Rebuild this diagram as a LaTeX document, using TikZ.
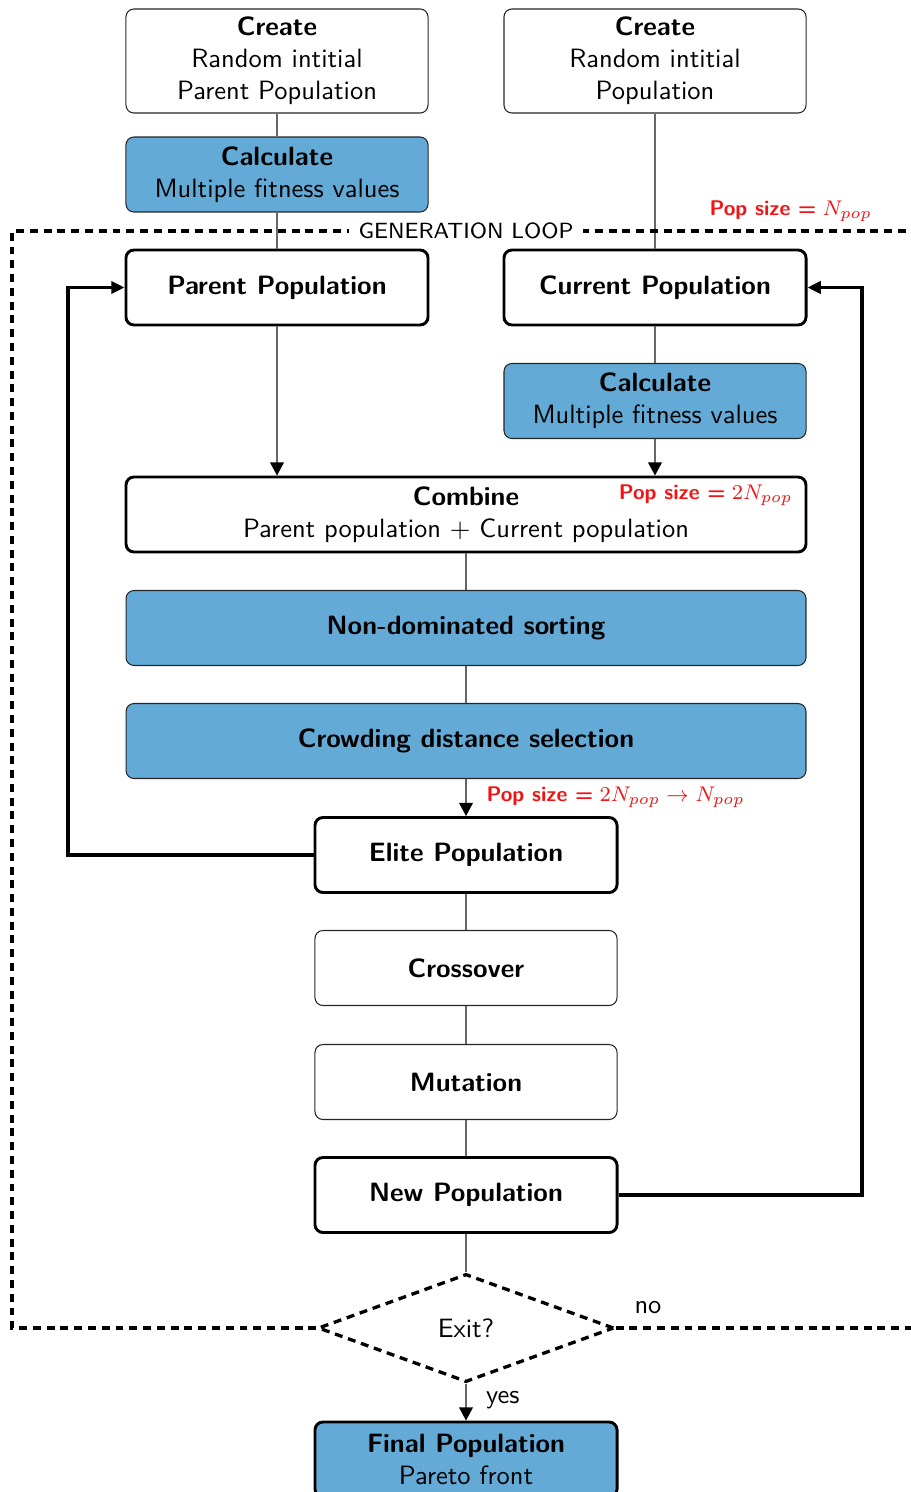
\documentclass[tikz,border=0pt]{standalone}
\usetikzlibrary{shapes.geometric,arrows.meta}
\renewcommand{\familydefault}{\sfdefault}
\definecolor{fitblue}{RGB}{100,170,214}
\definecolor{popred}{RGB}{240,20,20}
\newcommand{\beq}{\mathrel{\mbox{\bfseries =}}}
\tikzset{
  box/.style={rectangle, rounded corners=3pt, draw=black!85, line width=0.4pt,
    minimum width=114pt, minimum height=28.3pt, align=center, inner sep=2pt,
    font=\sffamily},
  tallbox/.style={box, minimum height=39.25pt},
  widebox/.style={box, minimum width=256.6pt},
  bluebox/.style={fill=fitblue},
  heavybox/.style={draw=black, line width=1.1pt},
  link/.style={draw=black!60, line width=0.6pt},
  arrowlink/.style={link, -{Triangle[length=5pt,width=5.2pt,black]}},
  loopline/.style={draw=black, line width=1.2pt, -{Triangle[length=5pt,width=4.6pt]}},
  looprect/.style={draw=black, line width=1.25pt, dash pattern=on 3pt off 2.2pt},
  popsize/.style={font=\sffamily\footnotesize\bfseries, text=popred, inner sep=0pt},
}
\begin{document}
\begin{tikzpicture}[x=0.3774pt, y=-0.3774pt]
\useasboundingbox (0,0) rectangle (910,1492);

% nodes
\node[tallbox] (create1) at (277,61) {\textbf{Create}\\Random intitial\\Parent Population};
\node[tallbox] (create2) at (655,61) {\textbf{Create}\\Random intitial\\Population};
\node[box,bluebox] (calc1) at (277,174.5) {\textbf{Calculate}\\Multiple fitness values};
\node[box,heavybox] (parent) at (277,287.5) {\textbf{Parent Population}};
\node[box,heavybox] (current) at (655,287.5) {\textbf{Current Population}};
\node[box,bluebox] (calc2) at (655,401) {\textbf{Calculate}\\Multiple fitness values};
\node[widebox,heavybox] (combine) at (466,514.5) {\textbf{Combine}\\Parent population $+$ Current population};
\node[widebox,bluebox] (nondom) at (466,628) {\textbf{Non-dominated sorting}};
\node[widebox,bluebox] (crowd) at (466,741) {\textbf{Crowding distance selection}};
\node[box,heavybox] (elite) at (466,855) {\textbf{Elite Population}};
\node[box] (cross) at (466,968) {\textbf{Crossover}};
\node[box] (mut) at (466,1082) {\textbf{Mutation}};
\node[box,heavybox] (newpop) at (466,1195) {\textbf{New Population}};
\node[diamond, draw=black, line width=1.25pt, dash pattern=on 3pt off 2.2pt,
  minimum width=111.7pt, minimum height=40.8pt, aspect=2.74, inner sep=0pt,
  font=\sffamily] (exit) at (466,1328) {Exit?};
\node[box,bluebox,heavybox] (final) at (466,1459.5) {\textbf{Final Population}\\Pareto front};

% pop size labels
\node[popsize, anchor=west] (ps1) at (709,211) {Pop size $\beq N_{pop}$};
\node[popsize, anchor=east] (ps2) at (793,495) {Pop size $\beq 2N_{pop}$};
\node[popsize, anchor=west] (ps3) at (486,797) {Pop size $\beq 2N_{pop} \rightarrow N_{pop}$};

% connectors
\draw[link] (create1) -- (calc1);
\draw[link] (calc1) -- (parent);
\draw[link] (create2) -- (current);
\draw[link] (current) -- (calc2);
\draw[arrowlink] (parent) -- (parent |- combine.north);
\draw[arrowlink] (calc2) -- (calc2 |- combine.north);
\draw[link] (combine) -- (nondom);
\draw[link] (nondom) -- (crowd);
\draw[arrowlink] (crowd) -- (elite);
\draw[link] (elite) -- (cross);
\draw[link] (cross) -- (mut);
\draw[link] (mut) -- (newpop);
\draw[link] (newpop) -- (exit);
\draw[arrowlink] (exit) -- node[right, font=\sffamily, pos=0.45, xshift=4pt] (yes) {yes} (final);

% loops
\coordinate (lb) at (68,855);
\coordinate (rb) at (862,1195);
\draw[loopline] (elite.west) -- (lb) |- (parent.west);
\draw[loopline] (newpop.east) -- (rb) |- (current.east);

% generation loop
\coordinate (ltop) at (12,231);
\coordinate (rtop) at (1000,231);
\coordinate (rbot) at (1000,1328);
\draw[looprect] (exit.west) -| (ltop) -- (rtop);
\draw[looprect] (exit.east) -- (rbot) -- (rtop);
\node[fill=white, font=\sffamily\fontsize{8.3}{10}\selectfont, inner sep=3.5pt] (genloop) at (466,231) {GENERATION LOOP};
\node[font=\sffamily] (no) at (648,1308) {no};
\end{tikzpicture}
\end{document}
